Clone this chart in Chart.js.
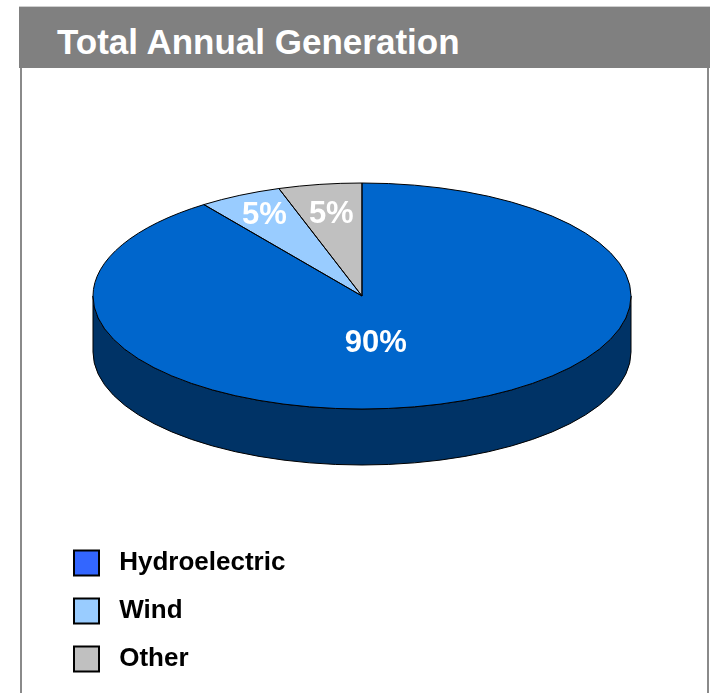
<!DOCTYPE html>
<html>
<head>
<meta charset="utf-8">
<script src="https://cdn.jsdelivr.net/npm/chart.js@4/dist/chart.umd.min.js"></script>
<style>
  body { margin: 0; background: #fff; overflow: hidden; }
  #head { position: absolute; left: 19px; top: 6px; width: 691px; height: 61px;
          background: #808080; border-top: 1px solid #cfcfcf; }
  #title { position: absolute; left: 57px; top: 25px; margin: 0; color: #fff;
           font: bold 35px/34px "Liberation Sans", Arial, sans-serif; white-space: nowrap; }
  .edge { position: absolute; top: 68px; width: 2px; height: 630px; background: #8a8a8a; }
  #chart { position: absolute; left: 0; top: 0; }
</style>
</head>
<body>
<div id="head"></div>
<div id="title">Total Annual Generation</div>
<div class="edge" style="left:20px"></div>
<div class="edge" style="left:707px"></div>
<canvas id="chart" width="710" height="694"></canvas>
<script>
// data
const categories = ["Hydroelectric", "Wind", "Other"];
const shares = [90, 5, 5];

// colours
const topColors = ['#0066CC', '#99CCFF', '#C0C0C0'];
const sideColors = ['#003366', '#4D6680', '#606060'];
const legendColors = ['#3366FF', '#99CCFF', '#C0C0C0'];
// label spot: fraction of radius, turn from the slice middle (degrees)
const labelRadius = [0.42, 0.8, 0.73];
const labelTurn = [11, 0, 0];

// how the flat pie is laid over as a tilted disc
const view3d = { cx: 362, cy: 296, rx: 269, ry: 113, depth: 56 };
const FONT = '"Liberation Sans", Arial, sans-serif';

function setTilt(ctx, arc) {
  const R = arc.outerRadius;
  ctx.translate(view3d.cx, view3d.cy);
  ctx.scale(view3d.rx / R, view3d.ry / R);
  ctx.translate(-arc.x, -arc.y);
}

function strokeFlat(ctx, chart) {
  // stroke the current path without the tilt so lines stay 1px
  ctx.save();
  const r = chart.currentDevicePixelRatio;
  ctx.setTransform(r, 0, 0, r, 0, 0);
  ctx.lineWidth = 1;
  ctx.strokeStyle = '#000';
  ctx.stroke();
  ctx.restore();
}

const tiltPlugin = {
  id: 'tilt',
  beforeDatasetsDraw(chart) {
    const ctx = chart.ctx;
    const arcs = chart.getDatasetMeta(0).data;
    const a0 = arcs[0];
    const R = a0.outerRadius;
    const d = view3d.depth * R / view3d.ry;
    ctx.save();
    setTilt(ctx, a0);
    // side wall, only the front half (0..PI) shows
    arcs.forEach((a, i) => {
      for (let k = -1; k <= 1; k++) {
        const s = Math.max(a.startAngle + k * 2 * Math.PI, 0);
        const e = Math.min(a.endAngle + k * 2 * Math.PI, Math.PI);
        if (e <= s) continue;
        ctx.beginPath();
        ctx.arc(a.x, a.y, R, s, e);
        ctx.arc(a.x, a.y + d, R, e, s, true);
        ctx.closePath();
        ctx.fillStyle = sideColors[i];
        ctx.fill();
        strokeFlat(ctx, chart);
      }
    });
  },
  afterDatasetsDraw(chart) {
    const ctx = chart.ctx;
    const arcs = chart.getDatasetMeta(0).data;
    // slice outlines
    arcs.forEach((a) => {
      ctx.beginPath();
      ctx.moveTo(a.x, a.y);
      ctx.arc(a.x, a.y, a.outerRadius, a.startAngle, a.endAngle);
      ctx.closePath();
      strokeFlat(ctx, chart);
    });
    ctx.restore();
    // percentage labels
    const total = shares.reduce((s, v) => s + v, 0);
    ctx.save();
    ctx.fillStyle = '#fff';
    ctx.font = 'bold 31px ' + FONT;
    ctx.textAlign = 'center';
    ctx.textBaseline = 'middle';
    arcs.forEach((a, i) => {
      const mid = (a.startAngle + a.endAngle) / 2 + labelTurn[i] * Math.PI / 180;
      const x = view3d.cx + view3d.rx * labelRadius[i] * Math.cos(mid);
      const y = view3d.cy + view3d.ry * labelRadius[i] * Math.sin(mid);
      ctx.fillText(Math.round(shares[i] / total * 100) + '%', x, y);
    });
    ctx.restore();
  }
};

new Chart(document.getElementById('chart'), {
  type: 'pie',
  data: {
    labels: categories,
    datasets: [{
      data: shares,
      backgroundColor: topColors,
      borderWidth: 0
    }]
  },
  options: {
    responsive: false,
    animation: false,
    layout: { padding: { left: 52, top: 70, right: 10, bottom: 0 } },
    plugins: {
      tooltip: { enabled: false },
      legend: {
        position: 'left',
        align: 'end',
        labels: {
          boxWidth: 25,
          boxHeight: 25,
          padding: 22,
          color: '#000',
          font: { family: FONT, size: 26, weight: 'bold' },
          generateLabels: () => categories.map((c, i) => ({
            text: ' ' + c,
            fillStyle: legendColors[i],
            strokeStyle: '#000',
            lineWidth: 2,
            hidden: false,
            index: i
          }))
        }
      }
    }
  },
  plugins: [tiltPlugin]
});
</script>
</body>
</html>
